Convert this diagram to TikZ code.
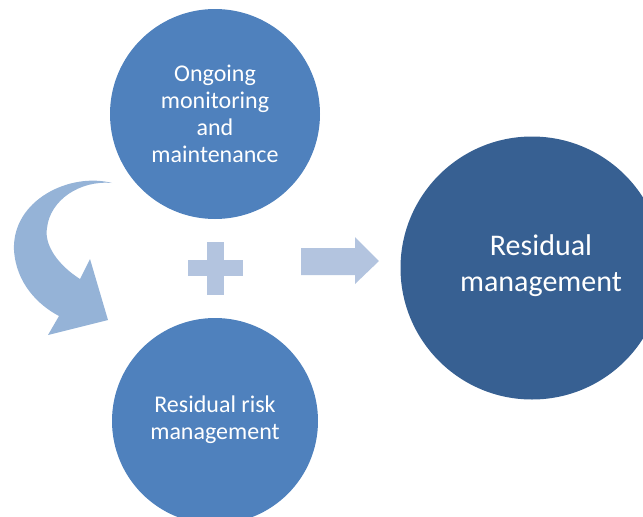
\documentclass[tikz,border=0pt]{standalone}
\usepackage{fontspec}
\setmainfont{Carlito}
\definecolor{midblue}{HTML}{4F81BD}
\definecolor{darkblue}{HTML}{376092}
\definecolor{paleblue}{HTML}{B3C4DF}
\definecolor{curveblue}{HTML}{95B3D7}
\begin{document}
\begin{tikzpicture}[x=1pt,y=-1pt,
  bubble/.style={circle,fill=midblue,inner sep=0pt},
  bigbubble/.style={circle,fill=darkblue,inner sep=0pt},
  smalltext/.style={text=white,align=center,inner sep=0pt,
    font=\fontsize{24}{27}\selectfont},
  bigtext/.style={text=white,align=center,inner sep=0pt,
    font=\fontsize{30}{36}\selectfont}]
\useasboundingbox (0,0) rectangle (643,517);
\clip (0,0) rectangle (643,517);
% curved arrow
\fill[curveblue] (112,183) .. controls (70,172) and (12,200) .. (14,250)
  .. controls (16,283) and (38,305) .. (59,316) -- (48,335) -- (108,320) -- (90,259) -- (80,279)
  .. controls (58,265) and (44,245) .. (47,228)
  .. controls (50,200) and (80,180) .. (112,183) -- cycle;
% circles
\node[bubble,minimum size=210pt] (top) at (215,114) {};
\node[smalltext] (toptext) at (215,114) {Ongoing\\monitoring\\and\\maintenance};
\node[bubble,minimum size=206pt] (bot) at (215,421) {};
\node[smalltext] (bottext) at (215,420) {Residual risk\\management};
\node[bigbubble,minimum size=263pt] (big) at (532,268) {};
\node[bigtext] (bigtext) at (541,266) {Residual\\management};
% plus
\fill[paleblue] (207,242) rectangle (224,295);
\fill[paleblue] (188,260) rectangle (243,276);
% right arrow
\fill[paleblue] (301,248) -- (355,248) -- (355,237) -- (379,261) -- (355,284) -- (355,275) -- (301,275) -- cycle;
\end{tikzpicture}
\end{document}
